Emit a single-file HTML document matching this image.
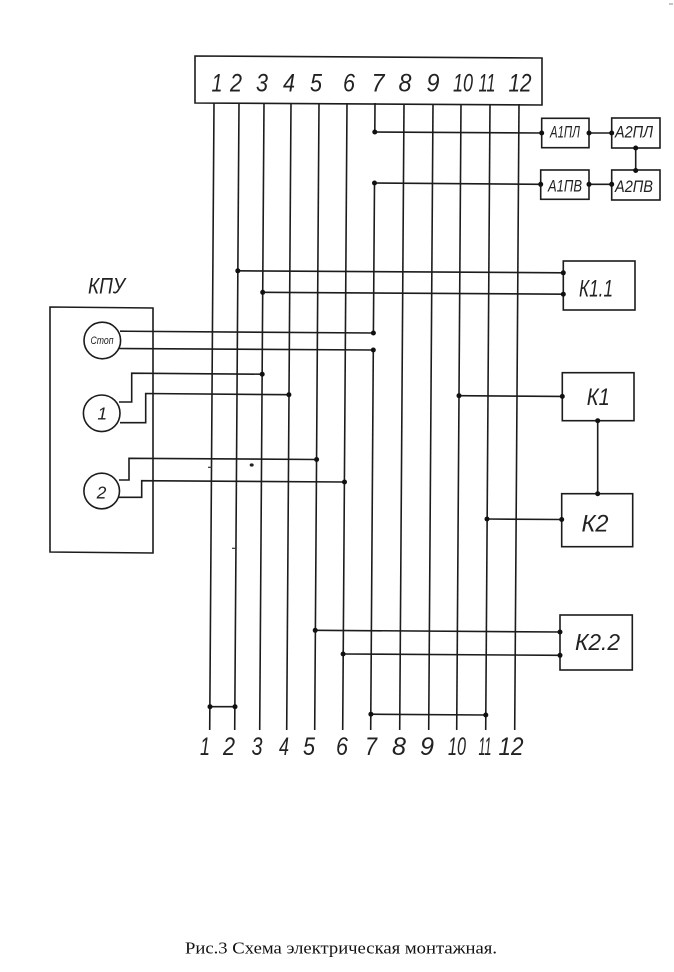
<!DOCTYPE html>
<html><head><meta charset="utf-8"><style>
html,body{margin:0;padding:0;background:#fff;}
svg{display:block;}
.t{font-family:"Liberation Sans","DejaVu Sans",sans-serif;font-style:italic;fill:#222;}
.c{font-family:"Liberation Serif","Noto Serif CJK SC",serif;fill:#111;}
</style></head><body>
<svg width="674" height="972" viewBox="0 0 674 972" xmlns="http://www.w3.org/2000/svg">
<defs><linearGradient id="g" x1="0" x2="1" y1="0" y2="0"><stop offset="0" stop-color="#bbb"/><stop offset="1" stop-color="#222"/></linearGradient></defs>
<rect width="674" height="972" fill="#fff"/>
<line x1="580" y1="2" x2="667" y2="2" stroke="url(#g)" stroke-width="2"/>
<line x1="669" y1="4" x2="673" y2="4" stroke="#888" stroke-width="1"/>

<g stroke="#1c1c1c" stroke-width="1.6" fill="none">
<polygon points="195,56 542,58 542,105 195,103"/>
<line x1="214" y1="103" x2="209.7" y2="730"/>
<line x1="239" y1="103" x2="234.7" y2="730"/>
<line x1="264" y1="103" x2="259.7" y2="730"/>
<line x1="291" y1="103" x2="286.7" y2="730"/>
<line x1="319" y1="103" x2="314.7" y2="730"/>
<line x1="347" y1="103" x2="342.7" y2="730"/>
<line x1="375" y1="103" x2="374.8" y2="132"/>
<line x1="374.5" y1="183" x2="373.4" y2="333"/>
<line x1="373.3" y1="350" x2="370.7" y2="730"/>
<line x1="404" y1="104" x2="399.7" y2="730"/>
<line x1="433" y1="104" x2="428.7" y2="730"/>
<line x1="461" y1="104" x2="456.7" y2="730"/>
<line x1="490" y1="104" x2="485.7" y2="730"/>
<line x1="519" y1="104" x2="514.7" y2="730"/>

<rect x="541.7" y="118.3" width="47.3" height="29.4"/>
<rect x="611.7" y="118" width="48.3" height="30"/>
<rect x="540.7" y="170" width="48.3" height="29.3"/>
<rect x="611.7" y="170" width="48.3" height="30"/>
<line x1="374.8" y1="132" x2="541.7" y2="133"/>
<line x1="589" y1="133" x2="611.7" y2="133"/>
<line x1="635.7" y1="148" x2="635.7" y2="170"/>
<line x1="589" y1="184.3" x2="611.7" y2="184.3"/>
<line x1="374.5" y1="183" x2="540.7" y2="184.3"/>

<rect x="563.3" y="261" width="71.7" height="49"/>
<line x1="237.8" y1="270.8" x2="563.3" y2="272.8"/>
<line x1="262.7" y1="292.3" x2="563.3" y2="294.2"/>

<polygon points="50,307 153,308 153,553 50,552"/>
<circle cx="102.3" cy="340.5" r="18.3"/>
<circle cx="101.7" cy="413.3" r="18.3"/>
<circle cx="101.7" cy="491" r="17.8"/>
<line x1="120" y1="331.2" x2="373.4" y2="333"/>
<line x1="119" y1="348.5" x2="373.3" y2="350"/>
<polyline points="119,402 131.7,402 131.7,373.2 262.2,374.2"/>
<polyline points="120,422.7 145.7,422.7 145.7,393.5 288.9,394.7"/>
<polyline points="119,480 129,480 129,458.3 316.6,459.5"/>
<polyline points="119,497.3 141.7,497.3 141.7,480.7 344.5,482"/>

<rect x="562.3" y="372.7" width="71.7" height="48"/>
<rect x="561.7" y="493.7" width="71" height="53"/>
<line x1="459" y1="395.7" x2="562.3" y2="396.4"/>
<line x1="597.7" y1="420.7" x2="597.7" y2="493.7"/>
<line x1="487" y1="519" x2="561.7" y2="519.5"/>

<rect x="560" y="615" width="72.3" height="55"/>
<line x1="315.2" y1="630.3" x2="560" y2="632"/>
<line x1="343.1" y1="654" x2="560" y2="655.3"/>

<line x1="210" y1="706.7" x2="235" y2="706.7"/>
<line x1="370.9" y1="714.2" x2="485.8" y2="715"/>
</g>

<g stroke="#333" stroke-width="1.2">
<line x1="208" y1="467.3" x2="212" y2="467.3"/>
<line x1="232" y1="548.3" x2="236" y2="548.3"/>
</g>
<ellipse cx="251.7" cy="465" rx="2" ry="1.6" fill="#222"/>

<g fill="#111">
<circle cx="374.8" cy="132" r="2.5"/>
<circle cx="374.5" cy="183" r="2.5"/>
<circle cx="541.7" cy="133" r="2.5"/>
<circle cx="589" cy="133" r="2.5"/>
<circle cx="611.7" cy="133" r="2.5"/>
<circle cx="635.7" cy="148" r="2.5"/>
<circle cx="635.7" cy="170.5" r="2.5"/>
<circle cx="611.7" cy="184.3" r="2.5"/>
<circle cx="589" cy="184.3" r="2.5"/>
<circle cx="540.7" cy="184.3" r="2.5"/>
<circle cx="237.8" cy="270.8" r="2.5"/>
<circle cx="262.7" cy="292.3" r="2.5"/>
<circle cx="563.3" cy="272.8" r="2.5"/>
<circle cx="563.3" cy="294.2" r="2.5"/>
<circle cx="373.4" cy="333" r="2.5"/>
<circle cx="373.3" cy="350" r="2.5"/>
<circle cx="262.2" cy="374.2" r="2.5"/>
<circle cx="288.9" cy="394.7" r="2.5"/>
<circle cx="316.6" cy="459.5" r="2.5"/>
<circle cx="344.5" cy="482" r="2.5"/>
<circle cx="459" cy="395.7" r="2.5"/>
<circle cx="562.3" cy="396.4" r="2.5"/>
<circle cx="597.7" cy="420.7" r="2.5"/>
<circle cx="597.7" cy="493.7" r="2.5"/>
<circle cx="487" cy="519" r="2.5"/>
<circle cx="561.7" cy="519.5" r="2.5"/>
<circle cx="315.2" cy="630.3" r="2.5"/>
<circle cx="343.1" cy="654" r="2.5"/>
<circle cx="560" cy="632" r="2.5"/>
<circle cx="560" cy="655.3" r="2.5"/>
<circle cx="210" cy="706.7" r="2.5"/>
<circle cx="235" cy="706.7" r="2.5"/>
<circle cx="370.9" cy="714.2" r="2.5"/>
<circle cx="485.8" cy="715" r="2.5"/>
</g>

<g class="t" font-size="25" text-anchor="middle">
<text x="217" y="91.7" textLength="11" lengthAdjust="spacingAndGlyphs">1</text>
<text x="236" y="91.7" textLength="12" lengthAdjust="spacingAndGlyphs">2</text>
<text x="262" y="91.7" textLength="12" lengthAdjust="spacingAndGlyphs">3</text>
<text x="289" y="91.7" textLength="12" lengthAdjust="spacingAndGlyphs">4</text>
<text x="316" y="91.7" textLength="12" lengthAdjust="spacingAndGlyphs">5</text>
<text x="349" y="91.7" textLength="12" lengthAdjust="spacingAndGlyphs">6</text>
<text x="378" y="91.7" textLength="13" lengthAdjust="spacingAndGlyphs">7</text>
<text x="405" y="91.7" textLength="13" lengthAdjust="spacingAndGlyphs">8</text>
<text x="433" y="91.7" textLength="13" lengthAdjust="spacingAndGlyphs">9</text>
<text x="463" y="91.7" textLength="20" lengthAdjust="spacingAndGlyphs">10</text>
<text x="487" y="91.7" textLength="17" lengthAdjust="spacingAndGlyphs">11</text>
<text x="520" y="91.7" textLength="23" lengthAdjust="spacingAndGlyphs">12</text>
</g>
<g class="t" font-size="25" text-anchor="middle">
<text x="205" y="755" textLength="10" lengthAdjust="spacingAndGlyphs">1</text>
<text x="229" y="755" textLength="12" lengthAdjust="spacingAndGlyphs">2</text>
<text x="257" y="755" textLength="11" lengthAdjust="spacingAndGlyphs">3</text>
<text x="284" y="755" textLength="10" lengthAdjust="spacingAndGlyphs">4</text>
<text x="309" y="755" textLength="12" lengthAdjust="spacingAndGlyphs">5</text>
<text x="342" y="755" textLength="12" lengthAdjust="spacingAndGlyphs">6</text>
<text x="371" y="755" textLength="12" lengthAdjust="spacingAndGlyphs">7</text>
<text x="399" y="755" textLength="14" lengthAdjust="spacingAndGlyphs">8</text>
<text x="427" y="755" textLength="14" lengthAdjust="spacingAndGlyphs">9</text>
<text x="457" y="755" textLength="18" lengthAdjust="spacingAndGlyphs">10</text>
<text x="485" y="755" textLength="13" lengthAdjust="spacingAndGlyphs">11</text>
<text x="511" y="755" textLength="25" lengthAdjust="spacingAndGlyphs">12</text>
</g>

<g class="t" text-anchor="middle">
<text x="565" y="137.5" font-size="17" textLength="30" lengthAdjust="spacingAndGlyphs">А1ПЛ</text>
<text x="634" y="137.5" font-size="17" textLength="38" lengthAdjust="spacingAndGlyphs">А2ПЛ</text>
<text x="565" y="191.5" font-size="17" textLength="34" lengthAdjust="spacingAndGlyphs">А1ПВ</text>
<text x="634" y="192" font-size="17" textLength="38" lengthAdjust="spacingAndGlyphs">А2ПВ</text>
<text x="596" y="296.7" font-size="24" textLength="34" lengthAdjust="spacingAndGlyphs">К1.1</text>
<text x="598.3" y="405" font-size="24" textLength="23" lengthAdjust="spacingAndGlyphs">К1</text>
<text x="595" y="531.7" font-size="24" textLength="27" lengthAdjust="spacingAndGlyphs">К2</text>
<text x="597.5" y="650" font-size="23" textLength="45" lengthAdjust="spacingAndGlyphs">К2.2</text>
<text x="106.5" y="293.3" font-size="22" textLength="37" lengthAdjust="spacingAndGlyphs">КПУ</text>
<text x="102" y="344" font-size="11" textLength="23" lengthAdjust="spacingAndGlyphs">Стоп</text>
<text x="102.3" y="419.3" font-size="17.5">1</text>
<text x="101.5" y="498.3" font-size="17.5">2</text>
</g>

<text class="c" x="185" y="953.5" font-size="17" textLength="312" lengthAdjust="spacingAndGlyphs">Рис.3 Схема электрическая монтажная.</text>
</svg>
</body></html>
